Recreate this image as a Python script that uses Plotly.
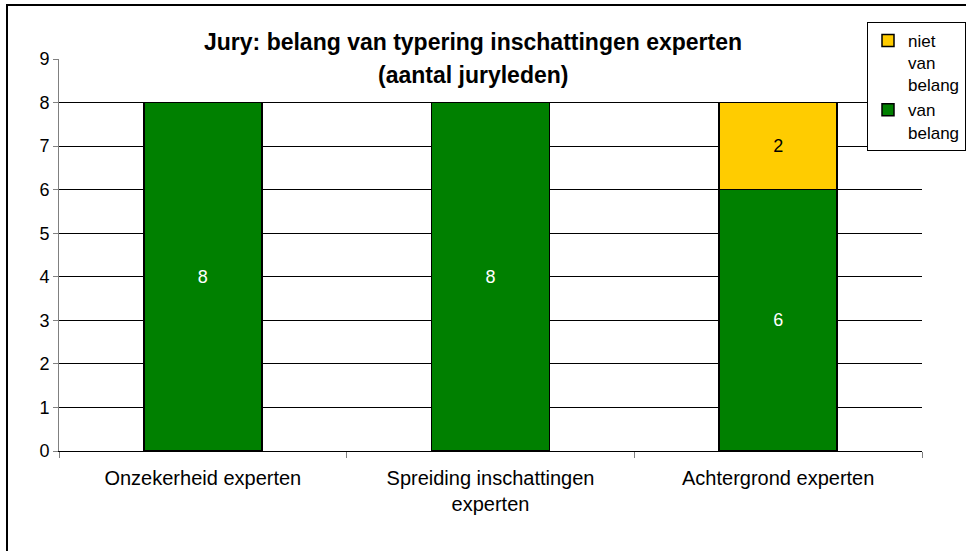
import plotly.graph_objects as go

# categories and counts
categories = [
    "Onzekerheid experten",
    "Spreiding inschattingen<br>experten",
    "Achtergrond experten",
]
van_belang = [8, 8, 6]
niet_van_belang = [0, 0, 2]
y_ticks = list(range(0, 10))

FONT = "Liberation Sans, Arial, sans-serif"

fig = go.Figure()
fig.add_trace(
    go.Bar(
        x=categories,
        y=van_belang,
        name="van<br>belang",
        legendgroup="van",
        marker={"color": "#008000", "line": {"color": "black", "width": 1.5}},
        text=[str(v) for v in van_belang],
        textposition="inside",
        insidetextanchor="middle",
        textfont={"color": "white", "size": 18, "family": FONT},
        width=0.41,
    )
)
fig.add_trace(
    go.Bar(
        x=categories,
        y=[v if v else None for v in niet_van_belang],
        name="niet<br>van<br>belang",
        legendgroup="niet",
        marker={"color": "#FFCC00", "line": {"color": "black", "width": 1.5}},
        text=[str(v) if v else "" for v in niet_van_belang],
        textposition="inside",
        insidetextanchor="middle",
        textfont={"color": "black", "size": 18, "family": FONT},
        width=0.41,
    )
)
# invisible overlay axis, only there to draw the gridlines 0..8
fig.add_trace(
    go.Scatter(x=categories, y=[None] * 3, yaxis="y2", showlegend=False, hoverinfo="skip")
)

fig.update_layout(
    width=966,
    height=551,
    barmode="stack",
    plot_bgcolor="white",
    paper_bgcolor="white",
    font={"family": FONT, "size": 18, "color": "black"},
    margin={"l": 59, "r": 44, "t": 59, "b": 100, "autoexpand": False},
    showlegend=True,
    legend={
        "traceorder": "reversed",
        "x": (867 - 59) / 863,
        "y": (451 - 22) / 392,
        "xanchor": "left",
        "yanchor": "top",
        "valign": "top",
        "bordercolor": "black",
        "borderwidth": 1,
        "bgcolor": "white",
        "font": {"size": 17},
        "itemwidth": 30,
        "tracegroupgap": 6,
    },
    xaxis={
        "showgrid": False,
        "showline": True,
        "linecolor": "black",
        "linewidth": 1,
        "ticks": "outside",
        "tickson": "boundaries",
        "ticklen": 6,
        "tickcolor": "#808080",
        "tickfont": {"size": 20},
        "ticklabelstandoff": 9,
        "automargin": False,
    },
    yaxis={
        "range": [0, 9],
        "tickvals": y_ticks,
        "showgrid": False,
        "showline": True,
        "linecolor": "#808080",
        "linewidth": 1,
        "ticks": "outside",
        "ticklen": 5,
        "tickcolor": "#808080",
        "tickfont": {"size": 18},
        "zeroline": False,
        "automargin": False,
    },
    yaxis2={
        "overlaying": "y",
        "range": [0, 9],
        "tickvals": y_ticks[:-1],
        "showticklabels": False,
        "showgrid": True,
        "gridcolor": "black",
        "gridwidth": 1,
        "zeroline": False,
        "layer": "below traces",
    },
    annotations=[
        {
            "text": "<b>Jury: belang van typering inschattingen experten</b>",
            "xref": "paper",
            "yref": "paper",
            "x": (473 - 59) / 863,
            "y": (451 - 42) / 392,
            "xanchor": "center",
            "yanchor": "middle",
            "showarrow": False,
            "font": {"size": 23},
        },
        {
            "text": "<b>(aantal juryleden)</b>",
            "xref": "paper",
            "yref": "paper",
            "x": (473 - 59) / 863,
            "y": (451 - 75) / 392,
            "xanchor": "center",
            "yanchor": "middle",
            "showarrow": False,
            "font": {"size": 23},
        },
    ],
    shapes=[
        {
            "type": "rect",
            "xref": "paper",
            "yref": "paper",
            "x0": -52 / 863,
            "x1": 1.2,
            "y0": -0.3,
            "y1": (451 - 5) / 392,
            "line": {"color": "black", "width": 2},
            "layer": "above",
        }
    ],
)

# drop the browser's default 8px body margin so the figure sits at the page origin
fig.write_html(
    "out.html",
    config={"displayModeBar": False},
    post_script="document.body.style.margin='0';",
)
